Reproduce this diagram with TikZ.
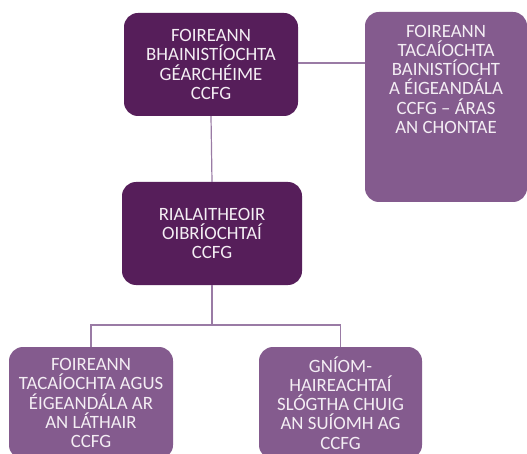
\documentclass[tikz,border=0pt]{standalone}
\usepackage{fontspec}
\setmainfont{Carlito}
\usepackage{tikz}
\definecolor{darkplum}{HTML}{561E5A}
\definecolor{lightplum}{HTML}{845B8E}
\definecolor{linkplum}{HTML}{9A7BA5}
\definecolor{boxtext}{HTML}{F4EEF4}
\tikzset{
	box/.style={rounded corners=14pt,inner sep=0pt,align=center,text=boxtext,
		font=\fontsize{18.8}{19.2}\selectfont},
	darkbox/.style={box,fill=darkplum},
	lightbox/.style={box,fill=lightplum},
	link/.style={linkplum,line width=1.2pt}
}
\begin{document}
\begin{tikzpicture}[x=1pt,y=-1pt]
	\clip (0,0) rectangle (527,454);
	\fill[white] (0,0) rectangle (527,454);
	\node[darkbox,minimum width=174pt,minimum height=103pt] (bhain) at (211,64.5) {FOIREANN\\BHAINISTÍOCHTA\\GÉARCHÉIME\\CCFG};
	\node[lightbox,minimum width=162pt,minimum height=190pt] (tacbox) at (446,107) {};
	\node[box,anchor=north] (tac) at (446,25) {FOIREANN\\TACAÍOCHTA\\BAINISTÍOCHT\\A ÉIGEANDÁLA\\CCFG – ÁRAS\\AN CHONTAE};
	\node[darkbox,minimum width=180pt,minimum height=103pt] (riail) at (212,233.5) {RIALAITHEOIR\\OIBRÍOCHTAÍ\\CCFG};
	\node[lightbox,minimum width=164pt,minimum height=112pt] (laithair) at (91,403) {FOIREANN\\TACAÍOCHTA AGUS\\ÉIGEANDÁLA AR\\AN LÁTHAIR\\CCFG};
	\node[lightbox,minimum width=163pt,minimum height=112pt] (suiomh) at (340.5,403) {GNÍOM-\\HAIREACHTAÍ\\SLÓGTHA CHUIG\\AN SUÍOMH AG\\CCFG};
	\coordinate (fork) at (212,325);
	\draw[link] (bhain.east |- 0,63) -- (tacbox.west |- 0,63);
	\draw[link] (bhain.south) -- (riail.north);
	\draw[link] (riail.south) -- (fork);
	\draw[link] (fork) -| (laithair.north);
	\draw[link] (fork) -| (suiomh.north);
\end{tikzpicture}
\end{document}
